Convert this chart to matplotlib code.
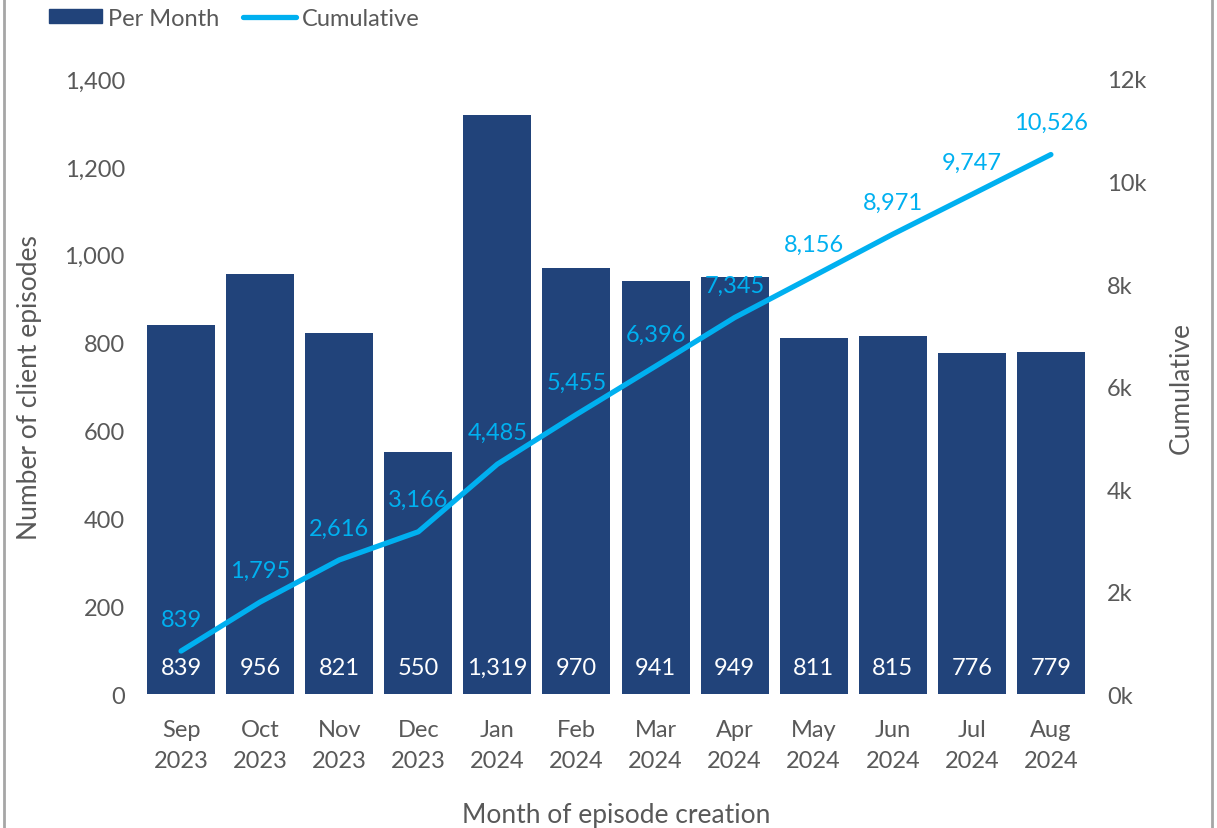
import matplotlib.pyplot as plt
from matplotlib.lines import Line2D
from matplotlib.ticker import FuncFormatter

months = ['Sep\n2023', 'Oct\n2023', 'Nov\n2023', 'Dec\n2023', 'Jan\n2024', 'Feb\n2024',
          'Mar\n2024', 'Apr\n2024', 'May\n2024', 'Jun\n2024', 'Jul\n2024', 'Aug\n2024']
per_month = [839, 956, 821, 550, 1319, 970, 941, 949, 811, 815, 776, 779]
cumulative = [839, 1795, 2616, 3166, 4485, 5455, 6396, 7345, 8156, 8971, 9747, 10526]

bar_col = '#21437A'
line_col = '#00B0F0'
grey = '#595959'

plt.rcParams['font.family'] = ['Lato', 'DejaVu Sans']

fig = plt.figure(figsize=(12.17, 8.29), dpi=100)
ax = fig.add_axes([0.1163, 0.1616, 0.7797, 0.7419])
ax2 = ax.twinx()

x = list(range(len(months)))
ax.bar(x, per_month, width=0.86, color=bar_col, zorder=2)
ax2.plot(x, cumulative, color=line_col, linewidth=3.8, solid_capstyle='round', zorder=3)

for i, v in enumerate(per_month):
    ax.annotate(f'{v:,}', (i, 0), xytext=(0, 19), textcoords='offset points',
                ha='center', va='center', color='white', fontsize=17)
for i, v in enumerate(cumulative):
    ax2.annotate(f'{v:,}', (i, v), xytext=(0, 23), textcoords='offset points',
                 ha='center', va='center', color=line_col, fontsize=17)

ax.set_xlim(-0.5, 11.5)
ax.set_ylim(0, 1400)
ax.set_yticks(range(0, 1401, 200))
ax.yaxis.set_major_formatter(FuncFormatter(lambda v, p: f'{int(v):,}'))
ax2.set_ylim(0, 12000)
ax2.set_yticks(range(0, 12001, 2000))
ax2.yaxis.set_major_formatter(FuncFormatter(lambda v, p: f'{int(v / 1000)}k'))
ax.set_xticks(x)
ax.set_xticklabels(months, linespacing=1.6)

for a in (ax, ax2):
    for s in a.spines.values():
        s.set_visible(False)
    a.tick_params(length=0, labelsize=17, labelcolor=grey, pad=12)
ax.tick_params(axis='x', pad=18)

ax.set_ylabel('Number of client episodes', fontsize=19, color=grey, labelpad=16)
ax2.set_ylabel('Cumulative', fontsize=19, color=grey, labelpad=16)
ax.set_xlabel('Month of episode creation', fontsize=19, color=grey, labelpad=22)

handles = [plt.Rectangle((0, 0), 1, 1, color=bar_col),
           Line2D([0], [0], color=line_col, linewidth=3.8, solid_capstyle='round')]
fig.legend(handles, ['Per Month', 'Cumulative'], loc='center left',
           bbox_to_anchor=(0.023, 0.977), ncol=2, frameon=False, fontsize=17,
           labelcolor=grey, handlelength=2.25, handleheight=0.55, handletextpad=0.25,
           columnspacing=1.0)

fig.add_artist(Line2D([0.003, 0.003], [0, 1], color='#A6A6A6', linewidth=2))
fig.add_artist(Line2D([0.996, 0.996], [0, 1], color='#A6A6A6', linewidth=2))

fig.savefig('out.png', dpi=100)
